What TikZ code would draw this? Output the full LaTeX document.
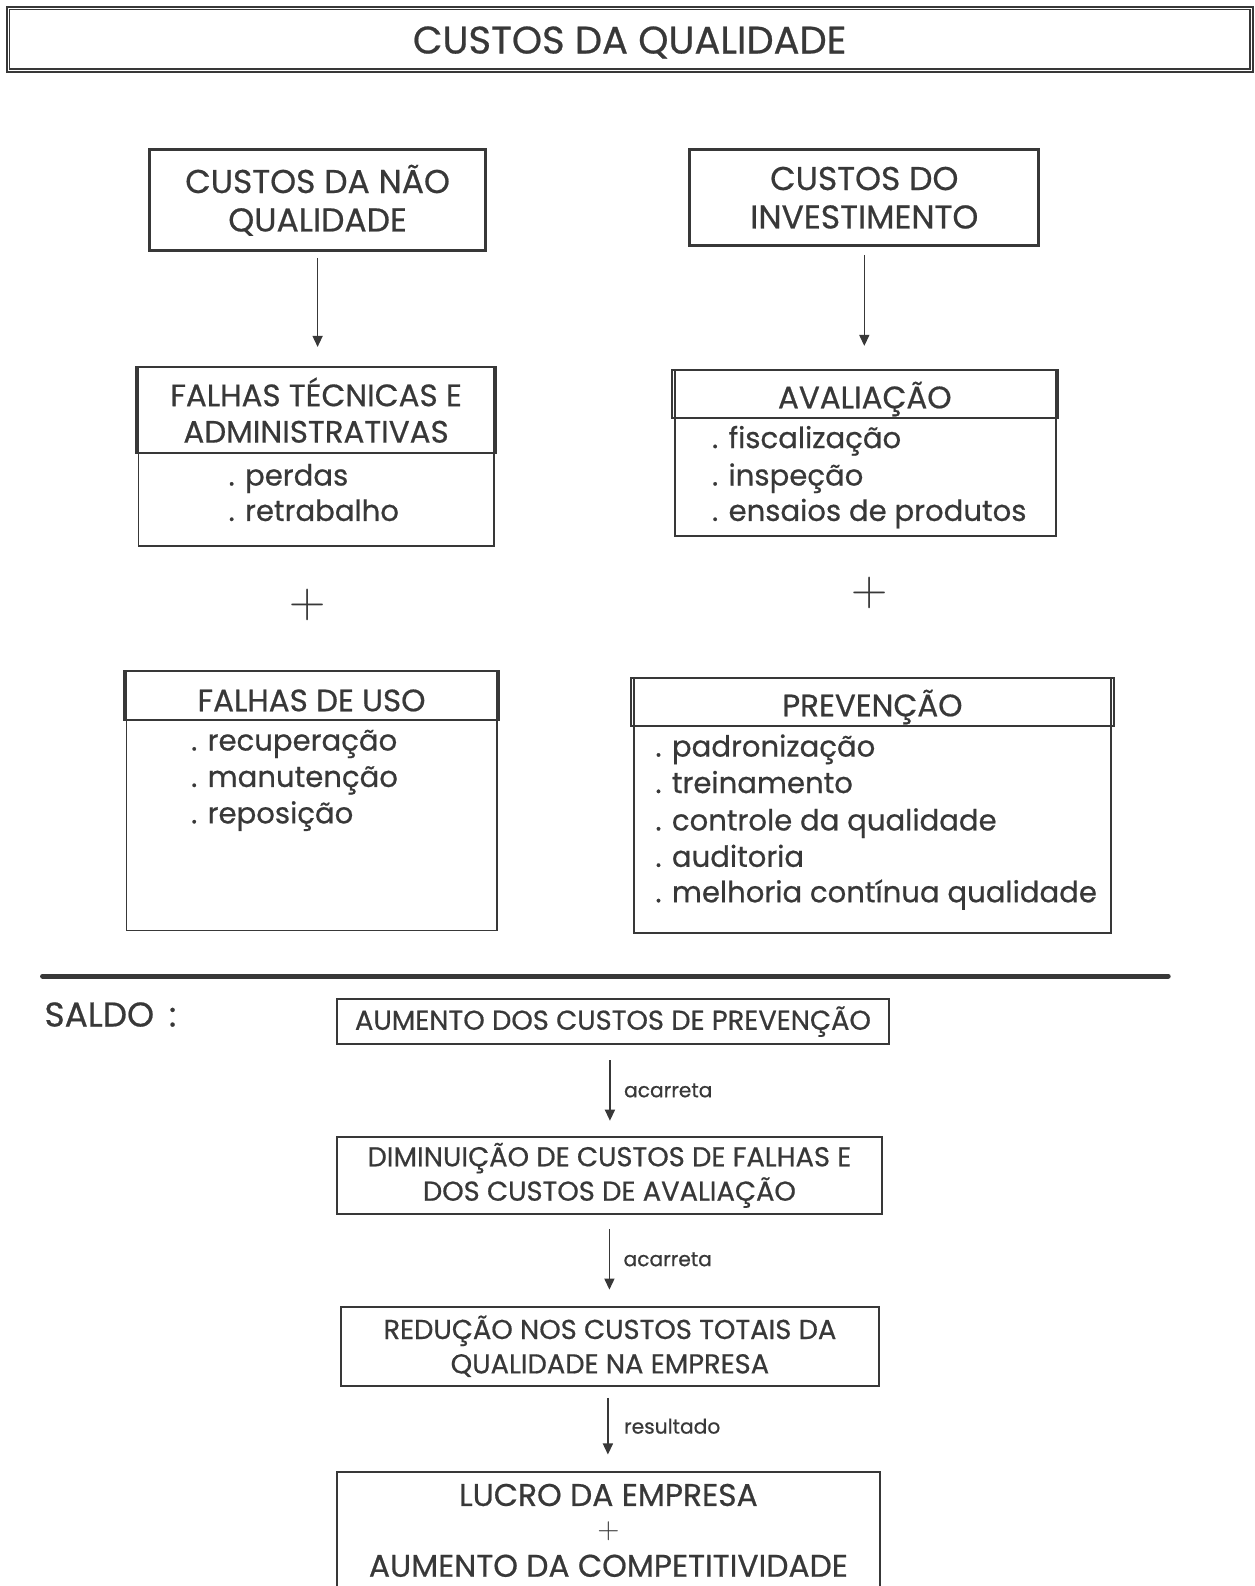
\documentclass[tikz,border=0pt]{standalone}
\usepackage{fontspec}
\setmainfont{Poppins}[UprightFeatures={FakeBold=0.6}]
\usetikzlibrary{arrows.meta}
\definecolor{ink}{HTML}{383838}
% shift the ink of a text down while keeping its box size
\newcommand\lowered[2]{\raisebox{-#1}[\height][\depth]{#2}}
\tikzset{
  every node/.style={text=ink, inner sep=0pt, outer sep=0pt},
  heavybox/.style={draw=ink, line width=1.5pt, align=center},
  titlebox/.style={draw=ink, double=white, double distance=0.5pt, line width=0.9pt, align=center},
  headbox/.style={draw=ink, line width=1.1pt, align=center},
  bodybox/.style={draw=ink, line width=0.9pt},
  flowbox/.style={draw=ink, line width=0.9pt, align=center},
  toptxt/.style={font=\fontsize{16.3}{19}\selectfont},
  headtxt/.style={font=\fontsize{15.3}{18}\selectfont},
  itemtxt/.style={font=\fontsize{14.4}{17}\selectfont, anchor=base west},
  smalltxt/.style={font=\fontsize{13.5}{17}\selectfont},
  endtxt/.style={font=\fontsize{15.5}{18}\selectfont},
  tagtxt/.style={font=\fontsize{10}{12}\selectfont, anchor=west},
  plussign/.style={font=\fontsize{24}{24}\selectfont},
  arr/.style={draw=ink, line width=0.7pt, -{Triangle[width=5pt,length=5.5pt]}},
}
\begin{document}
\begin{tikzpicture}[x=0.5pt, y=-0.5pt]
\useasboundingbox (0,0) rectangle (1240,1568);
\clip (0,0) rectangle (1240,1568);

% title
\node[titlebox, minimum width=614.5pt, minimum height=31pt, font=\fontsize{19}{22}\selectfont] (title) at (622.5,39) {\lowered{1.5pt}{CUSTOS DA QUALIDADE}};

% top level cost groups
\node[heavybox, toptxt, minimum width=166pt, minimum height=50pt] (cnq) at (314,198) {CUSTOS DA NÃO\\[0pt]QUALIDADE};
\node[heavybox, toptxt, minimum width=172.5pt, minimum height=47.5pt] (cinv) at (854.5,195.5) {CUSTOS DO\\[0pt]INVESTIMENTO};

% failure costs: technical and administrative
\node[bodybox, minimum width=175.5pt, minimum height=88.5pt] (fteBody) at (312.5,451.5) {};
\node[headbox, headtxt, minimum width=177.5pt, minimum height=42.5pt] (fte) at (312.5,405.5) {FALHAS TÉCNICAS E\\[0pt]ADMINISTRATIVAS};
\node[itemtxt] (fte1) at (226,480) {. perdas};
\node[itemtxt] (fte2) at (226,515) {. retrabalho};

% appraisal
\node[bodybox, minimum width=188.5pt, minimum height=82pt] (avBody) at (855.5,448) {};
\node[headbox, headtxt, minimum width=191pt, minimum height=23.5pt] (av) at (855,389.5) {\lowered{2.5pt}{AVALIAÇÃO}};
\node[itemtxt] (av1) at (704,443) {. fiscalização};
\node[itemtxt] (av2) at (704,480) {. inspeção};
\node[itemtxt] (av3) at (704,515) {. ensaios de produtos};

% plus signs
\node[plussign] (plusL) at (304,598) {$+$};
\node[plussign] (plusR) at (860,586) {$+$};

% failures in use
\node[bodybox, minimum width=183pt, minimum height=128.5pt] (fuBody) at (308,791.5) {};
\node[headbox, headtxt, minimum width=185pt, minimum height=24.5pt] (fu) at (308,687.5) {\lowered{2.5pt}{FALHAS DE USO}};
\node[itemtxt] (fu1) at (189,742) {. recuperação};
\node[itemtxt] (fu2) at (189,778) {. manutenção};
\node[itemtxt] (fu3) at (189,814) {. reposição};

% prevention
\node[bodybox, minimum width=235.5pt, minimum height=126pt] (pvBody) at (862.5,796) {};
\node[headbox, headtxt, minimum width=238.5pt, minimum height=24pt] (pv) at (862.5,694) {\lowered{2.5pt}{PREVENÇÃO}};
\node[itemtxt] (pv1) at (648,748) {. padronização};
\node[itemtxt] (pv2) at (648,784) {. treinamento};
\node[itemtxt] (pv3) at (648,821) {. controle da qualidade};
\node[itemtxt] (pv4) at (648,857) {. auditoria};
\node[itemtxt] (pv5) at (648,892) {. melhoria contínua qualidade};

\draw[arr] ([yshift=-3.5pt]cnq.south) -- ([yshift=10pt]cnq.south |- fte.north);
\draw[arr] ([yshift=-4.5pt]cinv.south) -- ([yshift=12pt]cinv.south |- av.north);

% separator
\coordinate (ruleL) at (42,965);
\coordinate (ruleR) at (1155,965);
\draw[ink, line width=2.4pt, line cap=round] (ruleL) -- (ruleR);

% balance
\node[font=\fontsize{17}{19}\selectfont, anchor=west] (saldo) at (44,1003) {SALDO\, :};

\node[flowbox, smalltxt, minimum width=273pt, minimum height=22pt] (aum) at (606,1010) {AUMENTO DOS CUSTOS DE PREVENÇÃO};
\node[flowbox, smalltxt, minimum width=269.5pt, minimum height=38pt] (dim) at (602.5,1162) {DIMINUIÇÃO DE CUSTOS DE FALHAS E\\DOS CUSTOS DE AVALIAÇÃO};
\node[flowbox, smalltxt, minimum width=266pt, minimum height=39pt] (red) at (603,1331) {REDUÇÃO NOS CUSTOS TOTAIS DA\\QUALIDADE NA EMPRESA};
\node[flowbox, minimum width=268.5pt, minimum height=75pt, anchor=north] (lucro) at (601.5,1455) {};
\node[endtxt] (lucro1) at (601.5,1478) {LUCRO DA EMPRESA};
\node[font=\fontsize{14}{14}\selectfont] (lucro2) at (601.5,1514) {$+$};
\node[endtxt] (lucro3) at (601.5,1548) {AUMENTO DA COMPETITIVIDADE};

\draw[arr] ([xshift=-1.5pt,yshift=-8pt]aum.south) -- node[tagtxt, right=7pt] {acarreta} ([xshift=-1.5pt,yshift=8pt]aum.south |- dim.north);
\draw[arr] ([yshift=-7.5pt]dim.south) -- node[tagtxt, right=7pt] {acarreta} ([yshift=8.5pt]dim.south |- red.north);
\draw[arr] ([xshift=-1pt,yshift=-6pt]red.south) -- node[tagtxt, right=8pt] {resultado} ([xshift=-1pt,yshift=8.5pt]red.south |- lucro.north);
\end{tikzpicture}
\end{document}
